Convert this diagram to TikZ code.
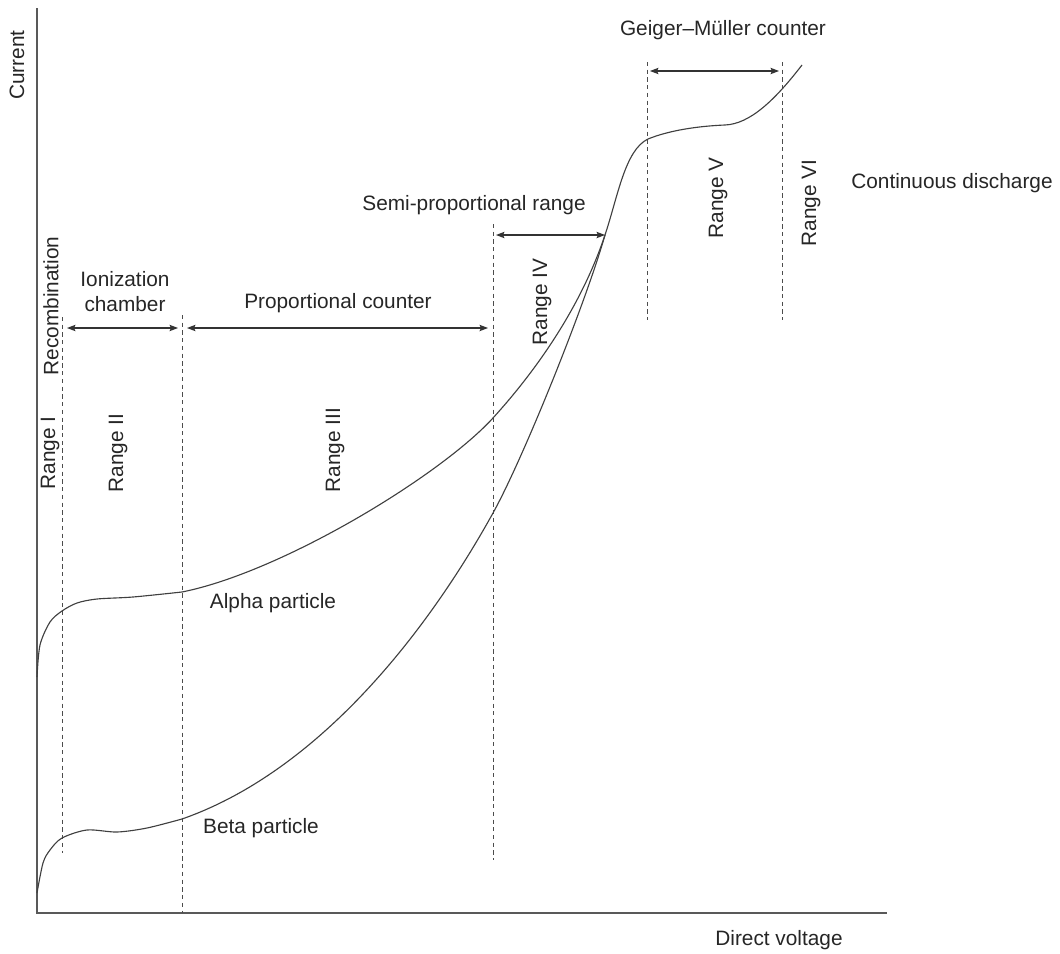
\documentclass[tikz,border=0pt]{standalone}
\usepackage{fontspec}
\setmainfont{Liberation Sans}
\usetikzlibrary{arrows.meta}
\tikzset{
	lbl/.style={font=\fontsize{14.8}{17.7}\selectfont, text=black!85, inner sep=0pt},
	vlbl/.style={lbl, rotate=90},
	axis/.style={line width=1.3pt, draw=black!65},
	bound/.style={draw=black!70, line width=0.7pt, dash pattern=on 3pt off 2.5pt},
	span/.style={{Stealth[length=6pt,width=4.5pt,inset=1pt]}-{Stealth[length=6pt,width=4.5pt,inset=1pt]}, line width=0.8pt, draw=black!80},
	curve/.style={line width=0.8pt, draw=black!75},
}
\begin{document}
\begin{tikzpicture}[x=0.025cm, y=-0.025cm]
	\useasboundingbox (0, 0) rectangle (1060, 954);
	% axes
	\coordinate (origin) at (37, 913);
	\coordinate (ytop) at (37, 8);
	\coordinate (xend) at (887, 913);
	\draw[axis] (ytop) -- (origin) -- (xend);
	\node[vlbl] (current) at (17, 65){Current};
	\node[lbl] (dirv) at (779, 940){Direct voltage};

	% range boundaries
	\coordinate (b1t) at (62, 317);   \coordinate (b1b) at (62, 853);
	\coordinate (b2t) at (182, 315);  \coordinate (b2b) at (182, 913);
	\coordinate (b3t) at (493, 224);  \coordinate (b3b) at (493, 860);
	\coordinate (b4t) at (647, 62);   \coordinate (b4b) at (647, 320);
	\coordinate (b5t) at (782, 62);   \coordinate (b5b) at (782, 320);
	\draw[bound] (b1t) -- (b1b);
	\draw[bound] (b2t) -- (b2b);
	\draw[bound] (b3t) -- (b3b);
	\draw[bound] (b4t) -- (b4b);
	\draw[bound] (b5t) -- (b5b);

	% spans
	\coordinate (s1l) at (67, 328);   \coordinate (s1r) at (178, 328);
	\coordinate (s2l) at (187, 328);  \coordinate (s2r) at (488, 328);
	\coordinate (s3l) at (496, 235);  \coordinate (s3r) at (605, 235);
	\coordinate (s4l) at (650, 71);   \coordinate (s4r) at (779, 71);
	\draw[span] (s1l) -- (s1r);
	\draw[span] (s2l) -- (s2r);
	\draw[span] (s3l) -- (s3r);
	\draw[span] (s4l) -- (s4r);

	\node[lbl, align=center] (ionch) at (125, 292){Ionization\\chamber};
	\node[lbl] (propc) at (338, 303){Proportional counter};
	\node[lbl] (semip) at (474, 205){Semi-proportional range};
	\node[lbl] (gmc) at (723, 30){Geiger--Müller counter};
	\node[lbl] (contd) at (952, 183){Continuous discharge};

	\node[vlbl] (recomb) at (51, 306){Recombination};
	\node[vlbl] (rangeI) at (50, 453){Range I};
	\node[vlbl] (rangeII) at (118, 453){Range II};
	\node[vlbl] (rangeIII) at (335, 450){Range III};
	\node[vlbl] (rangeIV) at (542, 302){Range IV};
	\node[vlbl] (rangeV) at (718, 198){Range V};
	\node[vlbl] (rangeVI) at (811, 203){Range VI};

	% curves
	\draw[curve] plot[smooth, tension=0.5] coordinates{(37, 677) (40, 645) (50, 622) (62, 611) (77, 603) (97, 599)
		(133, 597) (182, 592)}
		.. controls (282, 572) and (440, 476) .. (493, 418)
		.. controls (533, 374) and (580, 310) .. (605, 235)
		.. controls (618, 196) and (625, 150) .. (648, 139)
		.. controls (670, 130) and (700, 126) .. (725, 125)
		.. controls (750, 124) and (775, 100) .. (802, 65);
	\node[lbl] (alpha) at (273, 603){Alpha particle};

	\draw[curve] plot[smooth, tension=0.5] coordinates{(37, 893) (43, 863) (50, 850) (62, 838) (87, 830)
		(117, 832) (147, 828) (182, 819)}
		.. controls (322, 770) and (430, 627) .. (493, 513)
		.. controls (523, 459) and (585, 305) .. (605, 235);
	\node[lbl] (beta) at (261, 828){Beta particle};
\end{tikzpicture}
\end{document}
